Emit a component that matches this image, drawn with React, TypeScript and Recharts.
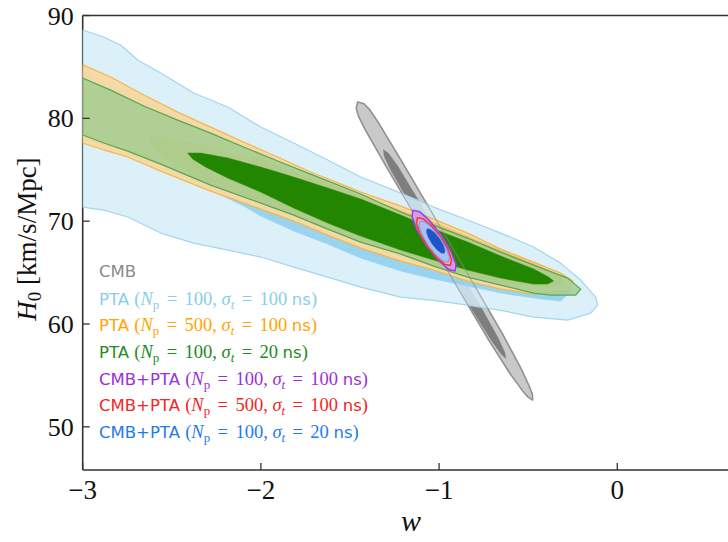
import React from 'react';
import { ComposedChart, Scatter, XAxis, YAxis, ReferenceLine, Legend, Polygon } from 'recharts';

// ---------- axes ----------
const xTicks = [-3, -2, -1, 0];
const yTicks = [50, 60, 70, 80, 90];
const xDomain: [number, number] = [-3, 0.7];
const yDomain: [number, number] = [45.8, 90];

// ---------- contours : [w, H0] ----------
const cmbOuter = [[-1.457,81.59],[-1.421,81.41],[-1.389,80.83],[-1.342,79.62],[-1.211,75.87],[-0.927,67.49],[-0.645,59.07],[-0.539,55.64],[-0.492,53.87],[-0.476,53.12],[-0.475,52.60],[-0.500,52.88],[-0.530,53.47],[-0.597,55.05],[-0.718,58.33],[-1.004,66.70],[-1.289,75.09],[-1.414,78.88],[-1.452,80.19],[-1.465,80.96]];
const cmbInner = [[-1.312,76.95],[-1.283,76.57],[-1.233,75.39],[-1.117,72.05],[-0.947,67.02],[-0.776,61.99],[-0.667,58.58],[-0.632,57.25],[-0.625,56.65],[-0.651,57.06],[-0.701,58.24],[-0.820,61.54],[-0.990,66.58],[-1.161,71.61],[-1.272,74.99],[-1.308,76.32]];

const ptaA2 = [[-3.000,88.59],[-2.882,87.91],[-2.787,87.13],[-2.691,85.67],[-2.562,84.41],[-2.377,82.46],[-2.186,81.10],[-2.001,79.15],[-1.816,77.60],[-1.625,75.94],[-1.440,74.29],[-1.215,72.73],[-1.030,71.37],[-0.840,70.11],[-0.654,68.84],[-0.469,67.48],[-0.318,65.92],[-0.205,64.27],[-0.121,62.62],[-0.110,61.84],[-0.149,61.05],[-0.278,60.37],[-0.469,60.67],[-0.654,61.33],[-0.840,61.84],[-1.030,62.30],[-1.215,62.62],[-1.440,63.59],[-1.625,64.56],[-1.816,65.53],[-2.001,66.51],[-2.186,67.19],[-2.377,67.87],[-2.562,68.84],[-2.747,70.40],[-2.882,71.08],[-3.000,71.37]];
const ptaA1 = [[-3.000,84.70],[-2.467,80.32],[-2.001,76.72],[-1.440,72.54],[-1.030,69.91],[-0.654,66.99],[-0.430,65.63],[-0.290,64.27],[-0.262,63.10],[-0.318,62.23],[-0.469,62.52],[-0.654,63.01],[-0.840,63.69],[-1.030,64.37],[-1.215,65.15],[-1.440,66.41],[-1.625,67.77],[-1.816,69.04],[-2.001,70.50],[-2.097,71.47],[-2.338,73.51],[-2.674,75.94],[-3.000,78.08]];

const ptaB2 = [[-3.000,85.19],[-2.843,84.02],[-2.657,82.27],[-2.467,80.61],[-2.282,79.15],[-2.097,77.69],[-1.906,76.24],[-1.721,74.78],[-1.535,73.51],[-1.440,72.83],[-1.215,71.47],[-1.030,70.20],[-0.840,68.84],[-0.654,67.29],[-0.469,66.02],[-0.318,64.95],[-0.250,64.17],[-0.278,63.30],[-0.469,62.91],[-0.654,63.39],[-0.840,64.17],[-1.030,65.24],[-1.215,66.12],[-1.440,67.38],[-1.625,68.65],[-1.816,70.01],[-2.001,71.18],[-2.282,72.93],[-2.562,74.87],[-2.747,76.24],[-2.882,76.92],[-3.000,77.60]];
const ptaB1 = [[-2.618,78.18],[-2.394,77.60],[-2.001,75.94],[-1.440,72.44],[-1.030,69.91],[-0.654,67.19],[-0.430,65.63],[-0.318,64.56],[-0.306,63.98],[-0.374,63.59],[-0.654,63.98],[-1.030,65.73],[-1.440,68.16],[-2.001,71.90],[-2.338,74.00],[-2.534,76.14],[-2.618,77.40]];

const ptaC2 = [[-3.000,83.92],[-2.843,82.75],[-2.657,81.20],[-2.467,79.83],[-2.282,78.57],[-2.097,77.21],[-1.906,75.85],[-1.721,74.58],[-1.440,72.64],[-1.215,70.89],[-1.030,69.62],[-0.840,68.36],[-0.654,66.99],[-0.469,65.73],[-0.278,64.46],[-0.205,63.39],[-0.233,62.81],[-0.374,62.81],[-0.469,63.01],[-0.654,63.78],[-0.840,64.56],[-1.030,65.63],[-1.215,66.80],[-1.440,67.97],[-1.625,69.23],[-1.816,70.59],[-2.001,71.76],[-2.282,73.51],[-2.562,75.55],[-2.747,76.82],[-2.882,77.60],[-3.000,78.38]];
const ptaC1 = [[-2.411,76.62],[-2.338,76.62],[-2.186,76.14],[-2.001,75.26],[-1.816,74.29],[-1.625,73.22],[-1.440,72.15],[-1.215,70.59],[-1.030,69.23],[-0.840,67.97],[-0.654,66.61],[-0.469,65.34],[-0.385,64.56],[-0.357,64.17],[-0.391,63.88],[-0.469,63.88],[-0.654,64.46],[-0.840,65.24],[-1.030,66.22],[-1.215,67.19],[-1.440,68.55],[-1.625,69.81],[-1.816,71.27],[-2.001,72.83],[-2.186,74.19],[-2.310,75.26],[-2.383,76.04]];

const combA = [[-0.910,65.16],[-0.905,65.81],[-0.934,67.07],[-0.987,68.61],[-1.052,70.02],[-1.110,70.92],[-1.147,71.06],[-1.152,70.42],[-1.124,69.16],[-1.070,67.61],[-1.005,66.21],[-0.947,65.31]];
const combB = [[-0.936,65.70],[-0.930,66.23],[-0.950,67.24],[-0.992,68.46],[-1.043,69.56],[-1.091,70.24],[-1.121,70.33],[-1.127,69.80],[-1.107,68.79],[-1.065,67.57],[-1.014,66.47],[-0.967,65.79]];
const combC2 = [[-0.948,66.02],[-0.942,66.48],[-0.960,67.36],[-0.995,68.40],[-1.040,69.35],[-1.081,69.94],[-1.107,70.01],[-1.113,69.55],[-1.095,68.68],[-1.060,67.63],[-1.015,66.68],[-0.974,66.09]];
const combC1 = [[-0.971,66.87],[-0.967,67.15],[-0.977,67.68],[-0.998,68.31],[-1.025,68.88],[-1.050,69.22],[-1.067,69.26],[-1.071,68.98],[-1.061,68.45],[-1.040,67.81],[-1.013,67.25],[-0.988,66.90]];

// ---------- legend ----------
const legendLabels = ['CMB', 'PTA', 'PTA', 'PTA', 'CMB+PTA', 'CMB+PTA', 'CMB+PTA'];
const legendNp = ['', '100', '500', '100', '100', '500', '100'];
const legendSigma = ['', '100', '100', '20', '100', '100', '20'];
const legendColors = ['#8a8a8a', '#87CEEB', '#FFA500', '#228B22', '#9B30D8', '#F52525', '#1F7AF0'];

const SERIF = '"Liberation Serif", "DejaVu Serif", serif';
const SANS = '"DejaVu Sans", "Noto Sans", sans-serif';
const AXIS = '#333333';

const toPts = (a: number[][]) => a.map(([w, H]) => ({ w, H }));
const NoDot = () => <g />;

const poly = (fill: string, stroke: string, sw: number, fo = 1, so = 1) => (p: any) => (
  <Polygon
    points={p.points}
    fill={fill}
    fillOpacity={fo}
    stroke={stroke}
    strokeWidth={sw}
    strokeOpacity={so}
    strokeLinejoin="round"
  />
);

const XTick = (props: any) => {
  const { x, y, payload } = props;
  const v = payload.value;
  const lbl = v < 0 ? '\u2212' + Math.abs(v) : String(v);
  return (
    <g>
      <line x1={x} x2={x} y1={y} y2={y - 7} stroke={AXIS} strokeWidth={1.3} />
      <text x={x} y={y + 29} textAnchor="middle" fontFamily={SERIF} fontSize={27} fill="#111">{lbl}</text>
    </g>
  );
};

const YTick = (props: any) => {
  const { x, y, payload } = props;
  return (
    <g>
      <line x1={x} x2={x + 7} y1={y} y2={y} stroke={AXIS} strokeWidth={1.3} />
      <text x={x - 9} y={y + 9} textAnchor="end" fontFamily={SERIF} fontSize={26} fill="#111">{payload.value}</text>
    </g>
  );
};

const renderYLabel = () => (
  <text x={36} y={239} transform="rotate(-90 36 239)" textAnchor="middle" fontFamily={SERIF} fontSize={27} fill="#111">
    <tspan fontStyle="italic">H</tspan>
    <tspan fontSize={19} dy={5}>0</tspan>
    <tspan dy={-5}> [km/s/Mpc]</tspan>
  </text>
);

const renderXLabel = () => (
  <text x={411} y={531} textAnchor="middle" fontFamily={SERIF} fontStyle="italic" fontSize={30} fill="#111">w</text>
);

const subStyle: React.CSSProperties = { fontSize: '0.7em', verticalAlign: '-0.3em', lineHeight: 0 };
const eqStyle: React.CSSProperties = { margin: '0 0.4em' };

const LegendBox = () => (
  <div style={{ lineHeight: '26.7px' }}>
    {legendLabels.map((lab, i) => (
      <div key={i} style={{ color: legendColors[i], whiteSpace: 'nowrap', height: 26.7 }}>
        <span style={{ fontFamily: SANS, fontSize: 16.5 }}>{lab}</span>
        {legendNp[i] && (
          <>
            <span style={{ fontFamily: SANS, fontSize: 16.5 }}> </span>
            <span style={{ fontFamily: SERIF, fontSize: 18.5 }}>
              (<i>N</i><span style={subStyle}>p</span><span style={eqStyle}>=</span>{legendNp[i]},{' '}<i>σ</i>
              <span style={{ ...subStyle, fontStyle: 'italic' }}>t</span><span style={eqStyle}>=</span>{legendSigma[i]}{' '}
            </span>
            <span style={{ fontFamily: SANS, fontSize: 16.5 }}>ns</span>
            <span style={{ fontFamily: SERIF, fontSize: 18.5 }}>)</span>
          </>
        )}
      </div>
    ))}
  </div>
);

export default function App() {
  return (
    <div style={{ position: 'absolute', left: 0, top: 0, width: 728, height: 542, overflow: 'hidden', background: '#fff' }}>
      <ComposedChart width={745} height={542} margin={{ top: 15.5, right: 3, bottom: 0, left: 0 }}>
        <Scatter data={toPts(cmbOuter)} line={poly('#C9C9C9', '#9A9A9A', 1.5)} lineType="joint" shape={NoDot} isAnimationActive={false} legendType="none" />
        <Scatter data={toPts(cmbInner)} line={poly('#7E7E7E', '#7E7E7E', 0.5)} lineType="joint" shape={NoDot} isAnimationActive={false} legendType="none" />
        <Scatter data={toPts(ptaA2)} line={poly('#D4EDF8', '#A3D6EE', 1.2, 0.84)} lineType="joint" shape={NoDot} isAnimationActive={false} legendType="none" />
        <Scatter data={toPts(ptaA1)} line={poly('#93D0EE', '#93D0EE', 0.5, 0.92)} lineType="joint" shape={NoDot} isAnimationActive={false} legendType="none" />
        <Scatter data={toPts(ptaB2)} line={poly('#F9D9A0', '#F2B84E', 1.3, 0.93)} lineType="joint" shape={NoDot} isAnimationActive={false} legendType="none" />
        <Scatter data={toPts(ptaB1)} line={poly('#F1C06E', '#F1C06E', 0.5, 0.93)} lineType="joint" shape={NoDot} isAnimationActive={false} legendType="none" />
        <Scatter data={toPts(ptaC2)} line={poly('#A4CD91', '#5DA64F', 1.3, 0.86)} lineType="joint" shape={NoDot} isAnimationActive={false} legendType="none" />
        <Scatter data={toPts(ptaC1)} line={poly('#238600', '#238600', 0.5)} lineType="joint" shape={NoDot} isAnimationActive={false} legendType="none" />
        <Scatter data={toPts(cmbOuter)} line={poly('none', '#8A8A8A', 1.3, 1, 0.55)} lineType="joint" shape={NoDot} isAnimationActive={false} legendType="none" />
        <Scatter data={toPts(combA)} line={poly('#CFA0EC', '#A040E0', 1.6)} lineType="joint" shape={NoDot} isAnimationActive={false} legendType="none" />
        <Scatter data={toPts(combB)} line={poly('#E8A8CC', '#F23C3C', 1.6)} lineType="joint" shape={NoDot} isAnimationActive={false} legendType="none" />
        <Scatter data={toPts(combC2)} line={poly('#A8C0F2', '#7C9AEC', 1)} lineType="joint" shape={NoDot} isAnimationActive={false} legendType="none" />
        <Scatter data={toPts(combC1)} line={poly('#1F55CC', '#1F55CC', 0.5)} lineType="joint" shape={NoDot} isAnimationActive={false} legendType="none" />

        <XAxis
          dataKey="w"
          type="number"
          domain={xDomain}
          allowDataOverflow
          ticks={xTicks}
          interval={0}
          height={72}
          tickLine={false}
          tickSize={0}
          tickMargin={0}
          tick={XTick}
          axisLine={{ stroke: AXIS, strokeWidth: 1.6 }}
          label={renderXLabel}
        />
        <YAxis
          dataKey="H"
          type="number"
          domain={yDomain}
          allowDataOverflow
          ticks={yTicks}
          interval={0}
          width={82.7}
          tickLine={false}
          tickSize={0}
          tickMargin={0}
          tick={YTick}
          axisLine={{ stroke: AXIS, strokeWidth: 1.6 }}
          label={renderYLabel}
        />
        <ReferenceLine y={90} stroke={AXIS} strokeWidth={1.6} />
        <Legend
          layout="vertical"
          align="center"
          verticalAlign="middle"
          wrapperStyle={{ left: 99, top: 259, width: 360 }}
          content={() => <LegendBox />}
        />
      </ComposedChart>
    </div>
  );
}
